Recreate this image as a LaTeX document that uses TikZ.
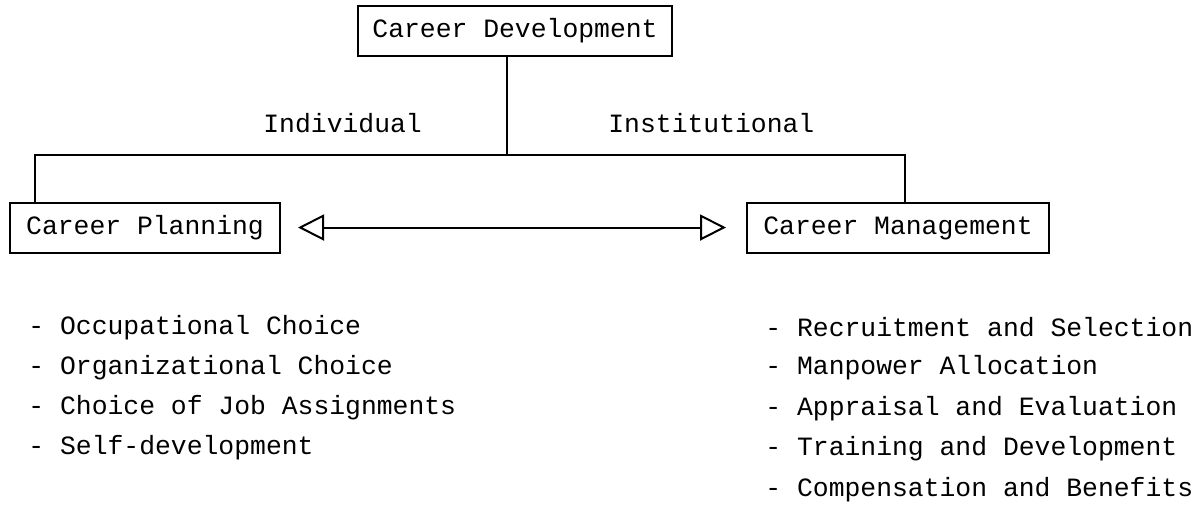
\documentclass[tikz,border=0pt]{standalone}
\usepackage{fontspec}
\setmonofont{Liberation Mono}
\usetikzlibrary{arrows.meta,positioning}

\tikzset{
  box/.style={draw, line width=1pt, inner sep=0pt, minimum height=25pt},
  label/.style={inner sep=0pt, anchor=base west},
  item/.style={inner sep=0pt, anchor=west},
  link/.style={line width=1pt},
}

\begin{document}
\begin{tikzpicture}[x=0.5pt, y=-0.5pt, every node/.style={font=\ttfamily\fontsize{13.2}{16}\selectfont}]
\useasboundingbox (0,0) rectangle (1204,526);

% boxes
\node[box, minimum width=157pt] (cd) at (515,31) {Career Development};
\node[box, minimum width=135pt] (plan) at (145,227.5) {Career Planning};
\node[box, minimum width=151pt] (mgmt) at (898,228) {Career Management};

% tree lines
\coordinate (bar) at (507,155);
\coordinate (lcorner) at (35,155);
\coordinate (rcorner) at (905,155);
\draw[link] (cd.south -| bar) -- (bar);
\draw[link] (plan.north -| lcorner) -- (lcorner) -- (rcorner) -- (mgmt.north -| rcorner);

\node[label] (indiv) at (263,132) {Individual};
\node[label] (inst) at (608,132) {Institutional};

% two way arrow
\draw[link, {Triangle[open,length=13pt,width=13pt]}-{Triangle[open,length=13pt,width=13pt]},
  shorten <=8.5pt, shorten >=10pt] (plan.east) -- (mgmt.west |- plan.east);

% lists
\foreach \txt [count=\i] in {Occupational Choice, Organizational Choice,
    Choice of Job Assignments, Self-development}
  \node[item] (pl\i) at (28,{288+40*\i}) {- \txt};
\foreach \txt [count=\i] in {Recruitment and Selection, Manpower Allocation,
    Appraisal and Evaluation, Training and Development, Compensation and Benefits}
  \node[item] (mg\i) at (765,{287+40.5*\i}) {- \txt};
\end{tikzpicture}
\end{document}
